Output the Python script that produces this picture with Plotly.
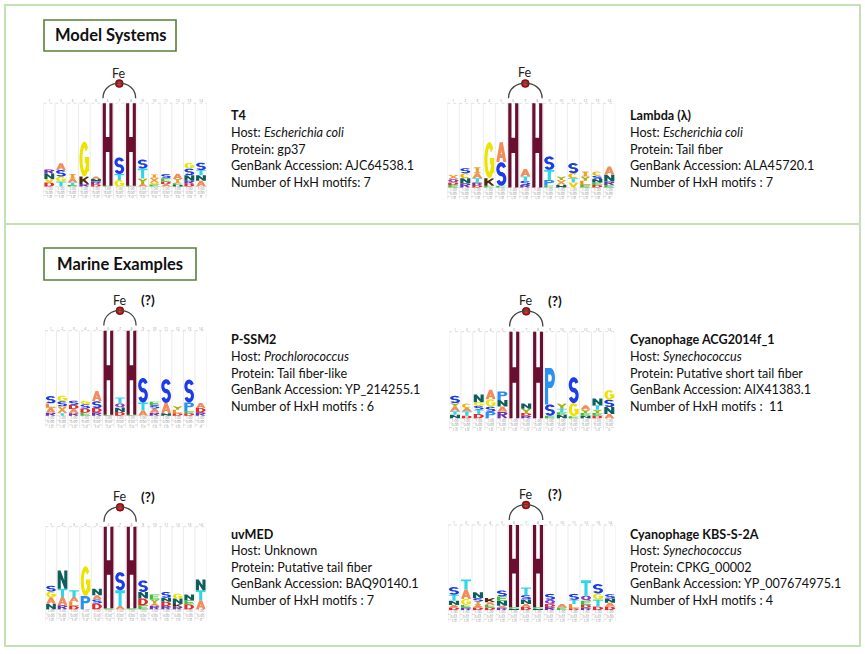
import numpy as np
import plotly.graph_objects as go

W, H = 865, 654

# ------------------------------------------------------------------ data
POSITIONS = list(range(1, 15))
FE_SITES = [6, 8]
TOP_LABELS = [str(p) for p in POSITIONS]
ROW1_LABELS = ["1.00"] * 14
ROW2_LABELS = ["0.00"] * 14
ROW2_LABELS_KBS = ["0.01"] * 13 + ["0.00"]
ROW3_LABELS = ["1.0"] * 13 + ["0"]

# letter stacks per position, bottom -> top, (residue, height; H column = 1)
LOGO_T4 = [
    [("D", .05), ("V", .04), ("N", .065), ("R", .05)],
    [("T", .06), ("G", .06), ("S", .08), ("A", .08)],
    [("E", .02), ("T", .03), ("A", .05), ("I", .05)],
    [("R", .03), ("K", .09), ("G", .42)],
    [("D", .03), ("R", .03), ("N", .03), ("A", .03)],
    [("E", .01), ("H", .99)],
    [("G", .08), ("T", .07), ("S", .2)],
    [("E", .01), ("H", .99)],
    [("A", .03), ("Y", .067), ("T", .12), ("S", .107)],
    [("E", .025), ("V", .02), ("X", .06), ("I", .04)],
    [("A", .03), ("D", .03), ("E", .04), ("S", .05)],
    [("N", .02), ("E", .02), ("I", .05), ("A", .065)],
    [("D", .035), ("R", .035), ("N", .067), ("S", .08), ("G", .067)],
    [("A", .07), ("N", .067), ("T", .06), ("S", .09)],
]
LOGO_LAMBDA = [
    [("E", .03), ("D", .03), ("Q", .04), ("X", .05)],
    [("R", .05), ("N", .06), ("C", .06), ("S", .06)],
    [("D", .03), ("R", .03), ("T", .05), ("A", .06), ("I", .07)],
    [("E", .02), ("K", .09), ("G", .43)],
    [("E", .02), ("S", .28), ("A", .24)],
    [("H", 1.0)],
    [("R", .03), ("S", .05), ("T", .05), ("A", .09)],
    [("H", 1.0)],
    [("E", .02), ("P", .07), ("T", .12), ("S", .16)],
    [("N", .03), ("X", .06), ("Y", .04)],
    [("V", .06), ("T", .05), ("C", .06), ("S", .12)],
    [("E", .03), ("L", .05), ("Y", .05), ("I", .06)],
    [("D", .03), ("E", .03), ("N", .04), ("S", .04), ("C", .05)],
    [("E", .03), ("R", .04), ("N", .08), ("A", .1)],
]
LOGO_PSSM2 = [
    [("R", .035), ("A", .06), ("L", .05), ("S", .086)],
    [("T", .03), ("X", .08), ("S", .06), ("G", .067)],
    [("R", .03), ("A", .05), ("D", .047), ("S", .05)],
    [("E", .035), ("D", .05), ("S", .05), ("G", .04)],
    [("R", .04), ("D", .05), ("S", .08), ("A", .12)],
    [("E", .012), ("H", .988)],
    [("D", .045), ("N", .05), ("Q", .05), ("T", .07)],
    [("E", .012), ("H", .988)],
    [("A", .06), ("T", .095), ("S", .29)],
    [("R", .035), ("A", .05), ("S", .04), ("E", .04)],
    [("N", .03), ("A", .12), ("S", .28)],
    [("D", .03), ("L", .04), ("Y", .04)],
    [("D", .03), ("E", .025), ("P", .1), ("S", .27)],
    [("R", .04), ("D", .05), ("A", .06)],
]
LOGO_ACG = [
    [("N", .04), ("T", .04), ("A", .055), ("Y", .04), ("S", .085)],
    [("D", .03), ("T", .05), ("A", .04), ("C", .05)],
    [("D", .05), ("T", .05), ("S", .045), ("G", .04), ("N", .09)],
    [("P", .075), ("S", .06), ("G", .085), ("A", .11)],
    [("R", .075), ("A", .06), ("N", .075), ("P", .1)],
    [("H", 1.0)],
    [("R", .03), ("D", .03), ("Y", .05), ("N", .06)],
    [("H", 1.0)],
    [("E", .03), ("S", .13), ("P", .42)],
    [("N", .04), ("E", .03), ("T", .04), ("Y", .06)],
    [("E", .025), ("G", .15), ("S", .3)],
    [("N", .03), ("E", .03), ("Y", .04), ("A", .05)],
    [("D", .03), ("E", .03), ("Y", .04), ("T", .05), ("N", .08)],
    [("A", .05), ("N", .08), ("S", .085), ("G", .11)],
]
LOGO_UVMED = [
    [("N", .065), ("A", .08), ("G", .07), ("S", .07)],
    [("R", .05), ("A", .1), ("T", .1), ("N", .22)],
    [("D", .04), ("L", .05), ("A", .06), ("T", .08)],
    [("P", .16), ("G", .36)],
    [("D", .07), ("S", .05), ("A", .05), ("N", .08)],
    [("E", .012), ("H", .988)],
    [("A", .04), ("T", .19), ("S", .22)],
    [("E", .012), ("H", .988)],
    [("E", .05), ("D", .08), ("N", .08), ("S", .14)],
    [("R", .04), ("A", .03), ("Y", .05), ("E", .06)],
    [("R", .04), ("D", .05), ("N", .05), ("S", .07)],
    [("R", .03), ("K", .035), ("N", .065), ("G", .06)],
    [("D", .06), ("E", .05), ("N", .07)],
    [("A", .11), ("T", .12), ("N", .13)],
]
LOGO_KBS = [
    [("D", .03), ("A", .03), ("N", .05), ("T", .07), ("S", .09)],
    [("R", .03), ("E", .03), ("G", .07), ("A", .11), ("T", .12)],
    [("D", .03), ("A", .03), ("I", .04), ("S", .04), ("N", .07)],
    [("D", .03), ("E", .03), ("A", .03), ("K", .05)],
    [("R", .03), ("A", .02), ("N", .06), ("E", .05), ("S", .07)],
    [("N", .015), ("E", .02), ("H", .965)],
    [("D", .035), ("A", .035), ("N", .055), ("S", .05), ("T", .09)],
    [("N", .015), ("E", .02), ("H", .965)],
    [("R", .035), ("D", .035), ("Q", .05), ("S", .07)],
    [("E", .03), ("A", .04)],
    [("D", .02), ("L", .05), ("T", .05), ("S", .07)],
    [("R", .03), ("D", .03), ("E", .05), ("Q", .06), ("T", .18)],
    [("D", .04), ("T", .085), ("G", .07), ("S", .11)],
    [("D", .04), ("A", .045), ("N", .05), ("S", .05)],
]

NAMES = ["T4", "Lambda (λ)", "P-SSM2", "Cyanophage ACG2014f_1", "uvMED", "Cyanophage KBS-S-2A"]
HOSTS = ["<i>Escherichia coli</i>", "<i>Escherichia coli</i>", "<i>Prochlorococcus</i>",
         "<i>Synechococcus</i>", "Unknown", "<i>Synechococcus</i>"]
PROTEINS = ["gp37", "Tail fiber", "Tail fiber-like", "Putative short tail fiber",
            "Putative tail fiber", "CPKG_00002"]
ACCESSIONS = ["AJC64538.1", "ALA45720.1", "YP_214255.1", "AIX41383.1", "BAQ90140.1", "YP_007674975.1"]
MOTIF_LABELS = ["Number of HxH motifs: 7", "Number of HxH motifs : 7", "Number of HxH motifs : 6",
                "Number of HxH motifs :  11", "Number of HxH motifs : 7", "Number of HxH motifs : 4"]
UNCERTAIN = [False, False, True, True, True, True]
SECTION_TITLES = ["Model Systems", "Marine Examples"]

LOGOS = [LOGO_T4, LOGO_LAMBDA, LOGO_PSSM2, LOGO_ACG, LOGO_UVMED, LOGO_KBS]
ROW2S = [ROW2_LABELS] * 5 + [ROW2_LABELS_KBS]

# ------------------------------------------------------------------ style
COLORS = {
    "H": "#6b0f30", "S": "#1b3ce6", "G": "#ece400", "A": "#f38c58", "T": "#2ed6e8",
    "N": "#0f5e5e", "K": "#4e2a12", "P": "#2b90f0", "D": "#e42a2a", "E": "#3fbf3f",
    "Y": "#a9b316", "I": "#f0a030", "L": "#f08a2a", "X": "#f39a3a", "R": "#6a34b0",
    "Q": "#8a3fc0", "C": "#f2b400", "V": "#f0d000", "M": "#5050d0",
}
# pixel geometry of each logo: centre x of column 1, centre x of column 14, baseline y, H-top y
LOGO_GEOM = [
    (49.3, 201.0, 186.6, 103.2),
    (453.3, 609.3, 187.5, 103.3),
    (50.7, 200.7, 415.7, 330.7),
    (455.0, 609.3, 418.3, 331.7),
    (51.0, 200.7, 609.3, 526.7),
    (454.0, 610.0, 610.0, 525.0),
]
TEXT_POS = [(229, 115.7), (628, 116), (229, 340), (628, 340), (229, 534), (628, 534)]
Y_LO, Y_HI = -0.16, 1.45
FONT = "Lato, 'Open Sans', sans-serif"

# ------------------------------------------------------------------ glyphs
SA, SB = 0.16, 0.09


def seg(x0, y0, x1, y1):
    dx, dy = x1 - x0, y1 - y0
    L = (dx * dx + dy * dy) ** 0.5
    nx, ny = -dy / L, dx / L
    ox, oy = nx * SA, ny * SB
    return [(x0 + ox, y0 + oy), (x1 + ox, y1 + oy), (x1 - ox, y1 - oy), (x0 - ox, y0 - oy)]


def arc(cx, cy, rx, ry, t0, t1, n=20):
    ts = np.radians(np.linspace(t0, t1, n))
    outer = [(cx + (rx + SA) * np.cos(t), cy + (ry + SB) * np.sin(t)) for t in ts]
    inner = [(cx + (rx - SA) * np.cos(t), cy + (ry - SB) * np.sin(t)) for t in ts[::-1]]
    return outer + inner


a, b = SA, SB
GLYPHS = {
    "H": [seg(a, 0, a, 1), seg(1 - a, 0, 1 - a, 1), seg(a, .5, 1 - a, .5)],
    "T": [seg(0, 1 - b, 1, 1 - b), seg(.5, 0, .5, 1 - b)],
    "I": [seg(.5, 0, .5, 1), seg(.18, 1 - b, .82, 1 - b), seg(.18, b, .82, b)],
    "L": [seg(a, 0, a, 1), seg(0, b, 1, b)],
    "E": [seg(a, 0, a, 1), seg(0, 1 - b, 1, 1 - b), seg(0, .5, .88, .5), seg(0, b, 1, b)],
    "N": [seg(a, 0, a, 1), seg(1 - a, 0, 1 - a, 1), seg(a, 1, 1 - a, 0)],
    "M": [seg(a, 0, a, 1), seg(1 - a, 0, 1 - a, 1), seg(a, 1, .5, .25), seg(.5, .25, 1 - a, 1)],
    "V": [seg(.12, 1, .5, 0), seg(.88, 1, .5, 0)],
    "Y": [seg(.12, 1, .5, .45), seg(.88, 1, .5, .45), seg(.5, 0, .5, .5)],
    "X": [seg(.12, 0, .88, 1), seg(.12, 1, .88, 0)],
    "A": [seg(.14, 0, .5, 1), seg(.86, 0, .5, 1), seg(.28, .3, .72, .3)],
    "K": [seg(a, 0, a, 1), seg(.25, .4, .88, 1), seg(.42, .55, .88, 0)],
    "P": [seg(a, 0, a, 1), seg(a, 1 - b, .55, 1 - b), seg(a, .54, .55, .54),
          arc(.55, .725, .29, .185, 90, -90)],
    "R": [seg(a, 0, a, 1), seg(a, 1 - b, .55, 1 - b), seg(a, .54, .55, .54),
          arc(.55, .725, .29, .185, 90, -90), seg(.5, .5, .86, 0)],
    "D": [seg(a, 0, a, 1), seg(a, 1 - b, .45, 1 - b), seg(a, b, .45, b),
          arc(.45, .5, .39, .41, 90, -90)],
    "C": [arc(.5, .5, .34, .41, 40, 320)],
    "G": [arc(.5, .5, .34, .41, 40, 350), seg(1 - a, .15, 1 - a, .5), seg(.55, .47, 1, .47)],
    "Q": [arc(.5, .55, .34, .36, 0, 360, 30), seg(.6, .25, .92, 0)],
    "S": [arc(.5, .705, .34, .205, 20, 270), arc(.5, .295, .34, .205, 90, -160)],
}


def poly_area(p):
    s = 0.0
    for i in range(len(p)):
        x0, y0 = p[i]
        x1, y1 = p[(i + 1) % len(p)]
        s += x0 * y1 - x1 * y0
    return s / 2


def glyph_path(letter, x0, y0, w, h):
    parts = []
    for poly in GLYPHS[letter]:
        pts = [(min(max(u, 0), 1), min(max(v, 0), 1)) for u, v in poly]
        if poly_area(pts) < 0:
            pts = pts[::-1]
        s = "M" + " L".join(f"{x0 + u * w:.4f},{y0 + v * h:.4f}" for u, v in pts) + " Z"
        parts.append(s)
    return " ".join(parts)


def px2paper(px, py):
    return px / W, 1 - py / H


# ------------------------------------------------------------------ figure
fig = go.Figure()
shapes = []
annotations = []
layout_axes = {}

for k, (logo, geom) in enumerate(zip(LOGOS, LOGO_GEOM), start=1):
    x1c, x14c, base, htop = geom
    sp = (x14c - x1c) / 13
    unit = base - htop
    xl, _ = px2paper(x1c - sp / 2, 0)
    xr, _ = px2paper(x14c + sp / 2, 0)
    _, yb = px2paper(0, base - Y_LO * unit)
    _, yt = px2paper(0, base - Y_HI * unit)
    sfx = "" if k == 1 else str(k)
    xa, ya = "x" + sfx, "y" + sfx
    layout_axes["xaxis" + sfx] = dict(domain=[xl, xr], range=[POSITIONS[0] - .5, POSITIONS[-1] + .5],
                                      visible=False, fixedrange=True, anchor=ya)
    layout_axes["yaxis" + sfx] = dict(domain=[yb, yt], range=[Y_LO, Y_HI], visible=False,
                                      fixedrange=True, anchor=xa)

    # column separators
    for p in POSITIONS + [POSITIONS[-1] + 1]:
        shapes.append(dict(type="line", xref=xa, yref=ya, x0=p - .5, x1=p - .5, y0=-0.14, y1=1.0,
                           line=dict(color="#e6e6e6", width=0.8), layer="below"))
    # dotted rows
    for yy in [0, -0.054, -0.108, 1.0]:
        shapes.append(dict(type="line", xref=xa, yref=ya, x0=.5, x1=14.5, y0=yy, y1=yy,
                           line=dict(color="#c8c8c8", width=0.6, dash="dot"), layer="below"))

    # letters
    lw = 0.84
    for p, stack in zip(POSITIONS, logo):
        y = 0.0
        for letter, hgt in stack:
            shapes.append(dict(type="path", xref=xa, yref=ya,
                               path=glyph_path(letter, p - lw / 2, y, lw, hgt),
                               fillcolor=COLORS[letter], line=dict(width=0),
                               fillrule="nonzero", layer="above"))
            y += hgt

    # Fe arc + ball
    l, r = FE_SITES[0] - .4, FE_SITES[1] + .4
    shapes.append(dict(type="path", xref=xa, yref=ya,
                       path=f"M{l},1.06 C{l},1.3 {r},1.3 {r},1.06",
                       line=dict(color="#444444", width=1.3), layer="above"))
    mid = sum(FE_SITES) / 2
    fig.add_trace(go.Scatter(x=[mid], y=[1.235], xaxis=xa, yaxis=ya, mode="markers",
                             marker=dict(size=8, color="#8c0000",
                                         gradient=dict(type="radial", color="#ff4a4a"),
                                         line=dict(color="#5a0000", width=0.5)),
                             cliponaxis=False, hoverinfo="skip"))
    annotations.append(dict(xref=xa, yref=ya, x=mid, y=1.36, text="Fe", showarrow=False,
                            font=dict(family=FONT, size=12.5, color="#222222")))
    if UNCERTAIN[k - 1]:
        annotations.append(dict(xref=xa, yref=ya, x=9.4, y=1.36, text="<b>(?)</b>", showarrow=False,
                                font=dict(family=FONT, size=13.5, color="#111111")))

    # tiny numbers
    fig.add_trace(go.Scatter(x=POSITIONS, y=[1.02] * 14, xaxis=xa, yaxis=ya, mode="text",
                             text=TOP_LABELS, textfont=dict(size=3.5, color="#999999"),
                             cliponaxis=False, hoverinfo="skip"))
    for yy, labels in zip([-0.028, -0.081, -0.132], [ROW1_LABELS, ROW2S[k - 1], ROW3_LABELS]):
        fig.add_trace(go.Scatter(x=POSITIONS, y=[yy] * 14, xaxis=xa, yaxis=ya, mode="text",
                                 text=labels, textfont=dict(size=3.5, color="#888888"),
                                 cliponaxis=False, hoverinfo="skip"))

# info text
for i, (tx, ty) in enumerate(TEXT_POS):
    lines = [f"<b>{NAMES[i]}</b>", f"Host: {HOSTS[i]}", f"Protein: {PROTEINS[i]}",
             f"GenBank Accession: {ACCESSIONS[i]}", MOTIF_LABELS[i]]
    for j, line in enumerate(lines):
        x, y = px2paper(tx, ty + j * 16.65)
        annotations.append(dict(xref="paper", yref="paper", x=x, y=y, xanchor="left",
                                yanchor="middle", text=line, showarrow=False,
                                font=dict(family=FONT, size=12.6, color="#111111")))

# panels
for (x0, y0, x1, y1) in [(5, 5, 860, 224), (5, 224, 860, 646)]:
    X0, Y0 = px2paper(x0, y0)
    X1, Y1 = px2paper(x1, y1)
    shapes.append(dict(type="rect", xref="paper", yref="paper", x0=X0, x1=X1, y0=Y1, y1=Y0,
                       line=dict(color="#c5e0b3", width=2), layer="below"))

# section title boxes
for title, (x0, y0, x1, y1) in zip(SECTION_TITLES, [(44, 20, 176, 51), (44, 248, 196, 280)]):
    X0, Y0 = px2paper(x0, y0)
    X1, Y1 = px2paper(x1, y1)
    shapes.append(dict(type="rect", xref="paper", yref="paper", x0=X0, x1=X1, y0=Y1, y1=Y0,
                       line=dict(color="#548235", width=1.6), fillcolor="white", layer="below"))
    annotations.append(dict(xref="paper", yref="paper", x=(X0 + X1) / 2, y=(Y0 + Y1) / 2,
                            text=f"<b>{title}</b>", showarrow=False, xanchor="center",
                            yanchor="middle", font=dict(family=FONT, size=16.5, color="#111111")))

fig.update_layout(width=W, height=H, margin=dict(l=0, r=0, t=0, b=0), showlegend=False,
                  paper_bgcolor="white", plot_bgcolor="rgba(0,0,0,0)",
                  shapes=shapes, annotations=annotations, **layout_axes)
fig.write_html("out.html", config={"displayModeBar": False},
               post_script="document.body.style.margin='0';"
                           "document.body.style.overflow='hidden';")
